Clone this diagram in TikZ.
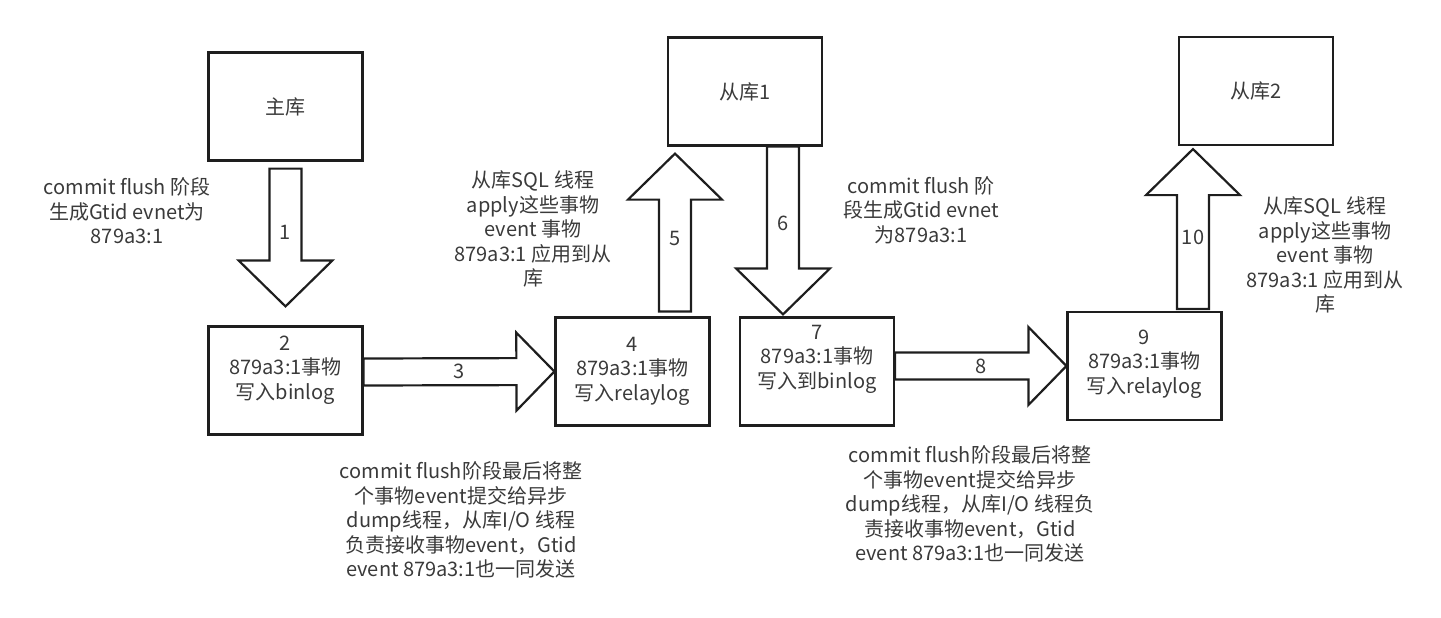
\documentclass[tikz,border=0pt]{standalone}
\usepackage{fontspec}
\setmainfont{Noto Sans CJK SC}
\usetikzlibrary{calc}

\definecolor{linegray}{HTML}{1E1E1E}
\definecolor{textgray}{HTML}{3A3A3A}

\tikzset{
  box/.style={draw=linegray, line width=2.2pt, minimum width=154pt, minimum height=108pt,
    inner sep=0pt, text=textgray, font=\fontsize{20}{24.5}\selectfont},
  txt/.style={text=textgray, align=center, inner sep=0pt, font=\fontsize{20}{24.5}\selectfont},
  num/.style={txt},
  % block arrow: shaft half width, head half width, head length
  fat/.style n args={3}{draw=linegray, line width=2.2pt, to path={
    let \p1=(\tikztostart), \p2=(\tikztotarget),
        \n1={veclen(\x2-\x1,\y2-\y1)}, \n2={atan2(\y2-\y1,\x2-\x1)} in
    {[shift={(\p1)}, rotate=\n2]
      (0,#1) -- (\n1-#3,#1) -- (\n1-#3,#2) -- (\n1,0) -- (\n1-#3,-#2) -- (\n1-#3,-#1) -- (0,-#1) -- cycle}
    (\p2)
  }},
  fatv/.style={fat={16}{47}{46}},
  fath/.style={fat={13.5}{39}{38}}
}

\begin{document}
\begin{tikzpicture}[x=1pt,y=-1pt]
	\useasboundingbox (0,0) rectangle (1441,618);

	% servers
	\node[box] (m)  at (285.5,106.5) {主库};
	\node[box] (s1) at (745,91.5) {从库1};
	\node[box] (s2) at (1256,91) {从库2};

	% steps
	\node[box] (b2) at (285.5,380.5) {};
	\node[box] (b4) at (632.5,371.5) {};
	\node[box] (b7) at (817,371.5) {};
	\node[box] (b9) at (1144.5,366) {};
	\node[txt] (b2t) at (285.5,370) {2\\879a3:1事物\\写入binlog};
	\node[txt] (b4t) at (632.5,371) {4\\879a3:1事物\\写入relaylog};
	\node[txt] (b7t) at (817,359) {7\\879a3:1事物\\写入到binlog};
	\node[txt] (b9t) at (1144.5,364) {9\\879a3:1事物\\写入relaylog};

	% arrows
	\draw[fatv] ([yshift=-7]m.south) coordinate (a1s) to ([yshift=19]b2.north) coordinate (a1e);
	\draw[fath] ([yshift=8.5]b2.east) coordinate (a3s) to (b4.west) coordinate (a3e);
	\draw[fatv] ([xshift=42.5,yshift=5]b4.north) coordinate (a5s) to ([xshift=-70,yshift=-7]s1.south) coordinate (a5e);
	\draw[fatv] ([xshift=38]s1.south) coordinate (a6s) to ([xshift=-34,yshift=2]b7.north) coordinate (a6e);
	\draw[fath] ([yshift=5.5]b7.east) coordinate (a8s) to (b9.west) coordinate (a8e);
	\draw[fatv] ([xshift=48.5,yshift=2]b9.north) coordinate (a10s) to ([xshift=-63,yshift=-3]s2.south) coordinate (a10e);

	\node[num] (n1)  at ([yshift=5]$(a1s)!.5!(a1e)$) {1};
	\node[num] (n3)  at ($(a3s)!.5!(a3e)$) {3};
	\node[num] (n5)  at ([yshift=-6]$(a5s)!.5!(a5e)$) {5};
	\node[num] (n6)  at ([yshift=7]$(a6s)!.5!(a6e)$) {6};
	\node[num] (n8)  at ($(a8s)!.5!(a8e)$) {8};
	\node[num] (n10) at ([yshift=-8]$(a10s)!.5!(a10e)$) {10};

	% notes
	\node[txt] (gen1) at (127,211) {commit flush 阶段\\生成Gtid evnet为\\879a3:1};
	\node[txt] (sql1) at (533,229) {从库SQL 线程\\apply这些事物\\event 事物\\879a3:1 应用到从\\库};
	\node[txt] (gen2) at (921,210) {commit flush 阶\\段生成Gtid evnet\\为879a3:1};
	\node[txt] (sql2) at (1325,255) {从库SQL 线程\\apply这些事物\\event 事物\\879a3:1 应用到从\\库};
	\node[txt] (send1) at (461,520) {commit flush阶段最后将整\\个事物event提交给异步\\dump线程，从库I/O 线程\\负责接收事物event，Gtid\\event 879a3:1也一同发送};
	\node[txt] (send2) at (970,504) {commit flush阶段最后将整\\个事物event提交给异步\\dump线程，从库I/O 线程负\\责接收事物event，Gtid\\event 879a3:1也一同发送};
\end{tikzpicture}
\end{document}
